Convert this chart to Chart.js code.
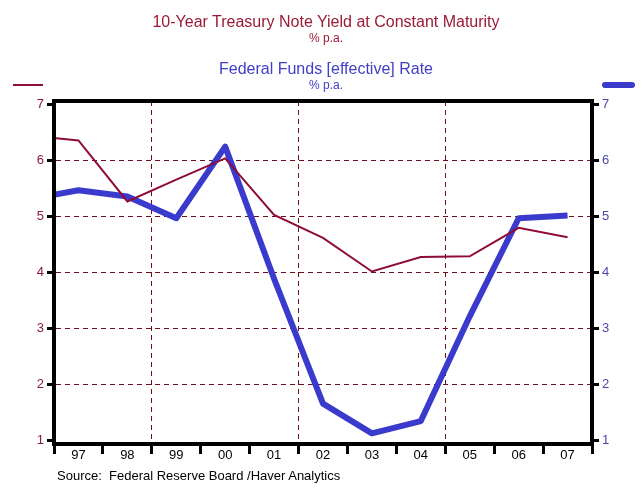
<!DOCTYPE html>
<html>
<head>
<meta charset="utf-8">
<script src="https://cdn.jsdelivr.net/npm/chart.js@4.4.0/dist/chart.umd.min.js"></script>
<style>
  html, body { margin: 0; padding: 0; background: #fff; }
  #wrap { position: relative; width: 644px; height: 497px; overflow: hidden; font-family: "Liberation Sans", Arial, sans-serif; }
  #c { position: absolute; left: 0; top: 0; }
  .t { position: absolute; left: 0; width: 652px; text-align: center; white-space: nowrap; }
  .red { color: #9b1b36; }
  .blue { color: #4040c8; }
  .big { font-size: 16px; height: 20px; line-height: 20px; }
  .small { font-size: 12px; height: 14px; line-height: 14px; }
  #src { position: absolute; left: 57px; top: 467px; font-size: 13px; line-height: 18px; color: #000; white-space: nowrap; }
  .mk { position: absolute; }
</style>
</head>
<body>
<div id="wrap">
  <canvas id="c" width="644" height="497"></canvas>
  <div class="t red big" style="top:12px">10-Year Treasury Note Yield at Constant Maturity</div>
  <div class="t red small" style="top:31px">% p.a.</div>
  <div class="t blue big" style="top:59px">Federal Funds [effective] Rate</div>
  <div class="t blue small" style="top:78px">% p.a.</div>
  <div class="mk" style="left:13px; top:84px; width:30px; height:2px; background:#8e0c36;"></div>
  <div class="mk" style="left:602px; top:82px; width:33px; height:6px; border-radius:3px; background:#3a3acd;"></div>
  <div id="src">Source:&nbsp; Federal Reserve Board /Haver Analytics</div>
</div>
<script>
// Annual averages plotted at mid-year; 1996 point lies just outside the left edge
const years = [1996, 1997, 1998, 1999, 2000, 2001, 2002, 2003, 2004, 2005, 2006, 2007];
const treasury10y = [6.44, 6.35, 5.26, 5.65, 6.03, 5.02, 4.61, 4.01, 4.27, 4.28, 4.79, 4.62];
const fedFunds = [5.30, 5.46, 5.35, 4.96, 6.24, 3.88, 1.65, 1.12, 1.34, 3.21, 4.96, 5.01];
const xLabels = ['97', '98', '99', '00', '01', '02', '03', '04', '05', '06', '07'];
const yTicks = [1, 2, 3, 4, 5, 6, 7];

const toPts = vals => years.map((yr, i) => ({ x: yr, y: vals[i] }));

const frame = {
  id: 'frame',
  afterDatasetsDraw(chart) {
    const a = chart.chartArea, ctx = chart.ctx;
    ctx.save();
    ctx.strokeStyle = '#000';
    ctx.lineWidth = 4;
    ctx.strokeRect(a.left, a.top, a.right - a.left, a.bottom - a.top);
    ctx.restore();
  }
};

const gridRed = '#6b0f1f';

new Chart(document.getElementById('c'), {
  type: 'line',
  data: {
    datasets: [
      {
        label: '10-Year Treasury Note Yield at Constant Maturity',
        data: toPts(treasury10y),
        borderColor: '#8e0c36',
        borderWidth: 2,
        pointRadius: 0,
        tension: 0,
        xAxisID: 'x',
        yAxisID: 'y',
        clip: 0
      },
      {
        label: 'Federal Funds [effective] Rate',
        data: toPts(fedFunds),
        borderColor: '#3a3acd',
        borderWidth: 6,
        pointRadius: 0,
        tension: 0,
        borderJoinStyle: 'round',
        xAxisID: 'x',
        yAxisID: 'y2',
        clip: 0
      }
    ]
  },
  options: {
    responsive: false,
    animation: false,
    devicePixelRatio: 1,
    layout: { padding: { top: 101, left: 0, right: 0, bottom: 0 } },
    plugins: { legend: { display: false }, tooltip: { enabled: false }, title: { display: false } },
    scales: {
      x: {
        type: 'linear',
        display: false,
        min: 1996.5,
        max: 2007.5
      },
      xc: {
        type: 'category',
        position: 'bottom',
        labels: xLabels,
        offset: true,
        afterFit: s => { s.height = 53; },
        grid: {
          offset: true,
          drawOnChartArea: true,
          color: ctx => (ctx.index === 2 || ctx.index === 5 || ctx.index === 8) ? gridRed : 'rgba(0,0,0,0)',
          lineWidth: 1,
          tickColor: '#000',
          tickWidth: 3,
          tickLength: 10
        },
        border: { display: true, color: '#000', width: 4, dash: [5, 4] },
        ticks: {
          color: '#000',
          font: { family: 'Liberation Sans', size: 13 },
          padding: -6,
          maxRotation: 0,
          autoSkip: false
        }
      },
      y: {
        type: 'linear',
        position: 'left',
        min: 0.93,
        max: 7.054,
        afterFit: s => { s.width = 54; },
        afterBuildTicks: s => { s.ticks = yTicks.map(v => ({ value: v })); },
        grid: {
          color: ctx => (ctx.tick && ctx.tick.value > 1 && ctx.tick.value < 7) ? gridRed : 'rgba(0,0,0,0)',
          lineWidth: 1,
          tickColor: '#000',
          tickWidth: 3,
          tickLength: 7
        },
        border: { display: true, color: '#000', width: 4, dash: [5, 4] },
        ticks: {
          color: '#8b1a3a',
          font: { family: 'Liberation Sans', size: 13 },
          padding: 3,
          callback: v => String(v)
        }
      },
      y2: {
        type: 'linear',
        position: 'right',
        min: 0.93,
        max: 7.054,
        afterFit: s => { s.width = 52; },
        afterBuildTicks: s => { s.ticks = yTicks.map(v => ({ value: v })); },
        grid: {
          drawOnChartArea: false,
          tickColor: '#000',
          tickWidth: 3,
          tickLength: 7
        },
        border: { display: true, color: '#000', width: 4 },
        ticks: {
          color: '#4848b0',
          font: { family: 'Liberation Sans', size: 13 },
          padding: 3,
          callback: v => String(v)
        }
      }
    }
  },
  plugins: [frame]
});
</script>
</body>
</html>
